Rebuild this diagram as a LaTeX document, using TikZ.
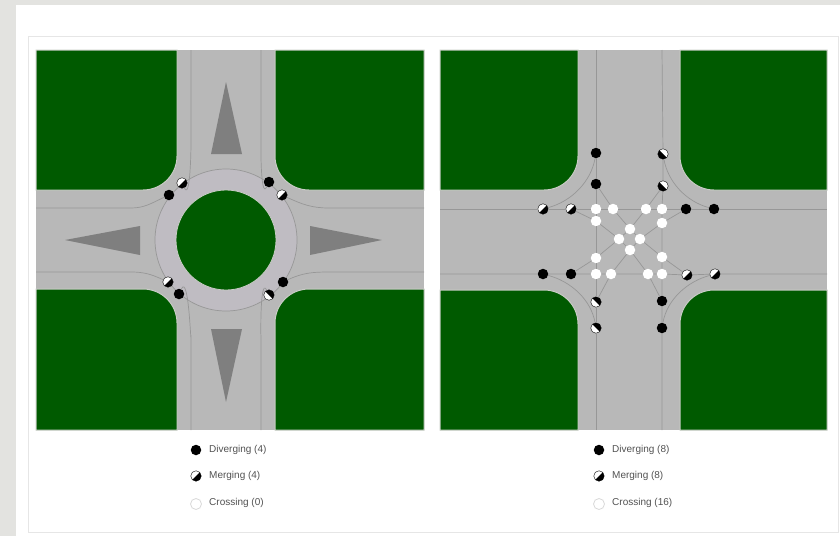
\documentclass[tikz,border=0pt]{standalone}
\usepackage{fontspec}
\setmainfont{Liberation Sans}
\definecolor{bgc}{HTML}{E3E3E0}
\definecolor{grassc}{HTML}{005A00}
\definecolor{roadc}{HTML}{B8B8B8}
\definecolor{edgec}{HTML}{C9CCC6}
\definecolor{ringc}{HTML}{BFBCC2}
\definecolor{linec}{HTML}{979797}
\definecolor{arrowc}{HTML}{7F7F7F}
\definecolor{framec}{HTML}{E6E6E6}
\tikzset{
 grass/.style={fill=grassc,draw=edgec,line width=1pt},
 road/.style={fill=roadc},
 lane/.style={draw=linec,line width=.7pt},
 island/.style={fill=arrowc},
 divdot/.style={circle,fill=black,minimum size=10.5pt,inner sep=0pt},
 crossdot/.style={circle,fill=white,minimum size=10.5pt,inner sep=0pt},
 mergebase/.style={circle,fill=white,draw=black,line width=.4pt,minimum size=10.5pt,inner sep=0pt},
 mergese/.style={mergebase,path picture={\fill[black] (path picture bounding box.south west)--(path picture bounding box.north east)--(path picture bounding box.south east)--cycle;}},
 mergesw/.style={mergebase,path picture={\fill[black] (path picture bounding box.north west)--(path picture bounding box.south east)--(path picture bounding box.south west)--cycle;}},
 mergene/.style={mergebase,path picture={\fill[black] (path picture bounding box.north west)--(path picture bounding box.south east)--(path picture bounding box.north east)--cycle;}},
 legdot/.style={circle,draw=black!15,line width=.8pt,fill=white,minimum size=11pt,inner sep=0pt},
 legtext/.style={anchor=west,inner sep=0pt,text=black!68,font=\fontsize{10}{12}\selectfont},
}
\newcommand{\grasspanel}[8]{%
 % x0 x1 xa xb y0 ya yb y1
 \fill[grass] (#1,#5) -- (#3,#5) -- (#3,#6-34) arc[start angle=0,end angle=90,radius=34] -- (#1,#6) -- cycle;
 \fill[grass] (#2,#5) -- (#4,#5) -- (#4,#6-34) arc[start angle=180,end angle=90,radius=34] -- (#2,#6) -- cycle;
 \fill[grass] (#1,#8) -- (#3,#8) -- (#3,#7+34) arc[start angle=0,end angle=-90,radius=34] -- (#1,#7) -- cycle;
 \fill[grass] (#2,#8) -- (#4,#8) -- (#4,#7+34) arc[start angle=180,end angle=270,radius=34] -- (#2,#7) -- cycle;
}
\begin{document}
\begin{tikzpicture}[x=1pt,y=-1pt]
\useasboundingbox (0,0) rectangle (840,536);
\fill[bgc] (0,0) rectangle (840,536);
\fill[white] (16,5) rectangle (840,536);
\draw[framec,line width=1pt] (28,36) rectangle (838,532);
% ---- left panel
\fill[road] (36,50) rectangle (424,430);
\grasspanel{36}{424}{177}{275}{50}{190}{289}{430}
\fill[ringc] (226,240) circle[radius=71];
\draw[lane] (226,240) circle[radius=71];
\fill[grassc,draw=edgec,line width=.8pt] (226,240) circle[radius=50];
\fill[island] (226,82) -- (242,154) -- (211,154) -- cycle;
\fill[island] (226,402) -- (242,329) -- (211,329) -- cycle;
\fill[island] (65,240) -- (140,226) -- (140,255) -- cycle;
\fill[island] (382,240) -- (310,226) -- (310,255) -- cycle;
\node[divdot] (la) at (169,195) {};
\node[mergese] (lb) at (182,183) {};
\node[divdot] (lc) at (269,182) {};
\node[mergese] (ld) at (282,195) {};
\node[mergese] (le) at (168,282) {};
\node[divdot] (lf) at (179,294) {};
\node[divdot] (lg) at (283,282) {};
\node[mergene] (lh) at (269,295) {};
\coordinate (ln1) at (191,50); \coordinate (ln2) at (261,50);
\coordinate (ls1) at (191,430); \coordinate (ls2) at (261,430);
\coordinate (lw1) at (36,208); \coordinate (lw2) at (36,272);
\coordinate (le1) at (424,208); \coordinate (le2) at (424,272);
\draw[lane] (ln1) -- ++(0,95) to[out=90,in=-65] (lb);
\draw[lane] (ln2) -- ++(0,95) to[out=90,in=-115] (lc);
\draw[lane] (ls1) -- ++(0,-95) to[out=-90,in=65] (lf);
\draw[lane] (ls2) -- ++(0,-95) to[out=-90,in=115] (lh);
\draw[lane] (lw1) -- ++(95,0) to[out=0,in=205] (la);
\draw[lane] (lw2) -- ++(95,0) to[out=0,in=155] (le);
\draw[lane] (le1) -- ++(-95,0) to[out=180,in=-25] (ld);
\draw[lane] (le2) -- ++(-95,0) to[out=180,in=25] (lg);
% ---- right panel
\fill[road] (440,50) rectangle (827,430);
\grasspanel{440}{827}{578}{680}{50}{190}{290}{430}
\node[divdot] (a1) at (596,153) {};
\node[divdot] (a2) at (596,184) {};
\node[mergesw] (b1) at (663,154) {};
\node[mergesw] (b2) at (663,186) {};
\node[mergese] (c1) at (543,209) {};
\node[mergese] (c2) at (571,209) {};
\node[divdot] (d2) at (686,209) {};
\node[divdot] (d1) at (714,209) {};
\node[divdot] (e1) at (543,274) {};
\node[divdot] (e2) at (571,274) {};
\node[mergese] (f2) at (687,275) {};
\node[mergese] (f1) at (715,274) {};
\node[mergene] (g2) at (596,302) {};
\node[mergene] (g1) at (596,328) {};
\node[divdot] (h2) at (662,301) {};
\node[divdot] (h1) at (662,328) {};
\node[crossdot] (w1) at (596,209) {};
\node[crossdot] (w2) at (613,209) {};
\node[crossdot] (w3) at (646,209) {};
\node[crossdot] (w4) at (662,209) {};
\node[crossdot] (w5) at (596,221) {};
\node[crossdot] (w6) at (662,223) {};
\node[crossdot] (w7) at (630,229) {};
\node[crossdot] (w8) at (619,239) {};
\node[crossdot] (w9) at (640,239) {};
\node[crossdot] (w10) at (630,250) {};
\node[crossdot] (w11) at (596,258) {};
\node[crossdot] (w12) at (662,257) {};
\node[crossdot] (w13) at (596,274) {};
\node[crossdot] (w14) at (611,274) {};
\node[crossdot] (w15) at (648,274) {};
\node[crossdot] (w16) at (662,274) {};
\coordinate (rn1) at (596,50); \coordinate (rn2) at (662,50);
\coordinate (rs1) at (596,430); \coordinate (rs2) at (662,430);
\coordinate (rw1) at (440,209); \coordinate (rw2) at (440,274);
\coordinate (re1) at (827,209); \coordinate (re2) at (827,274);
\draw[lane] (rn1) -- (a1) -- (a2) -- (w1) -- (w5) -- (w11) -- (w13) -- (g2) -- (g1) -- (rs1);
\draw[lane] (rn2) -- (b1) -- (b2) -- (w4) -- (w6) -- (w12) -- (w16) -- (h2) -- (h1) -- (rs2);
\draw[lane] (rw1) -- (c1) -- (c2) -- (w1) -- (w2) -- (w3) -- (w4) -- (d2) -- (d1) -- (re1);
\draw[lane] (rw2) -- (e1) -- (e2) -- (w13) -- (w14) -- (w15) -- (w16) -- (f2) -- (f1) -- (re2);
\draw[lane] (a1) to[out=-100,in=15,looseness=.9] (c1);
\draw[lane] (b1) to[out=-80,in=165,looseness=.9] (d1);
\draw[lane] (e1) to[out=-15,in=100,looseness=.9] (g1);
\draw[lane] (f1) to[out=195,in=80,looseness=.9] (h1);
\draw[lane] (a2) -- (w2) -- (w7) -- (w9) -- (w12) -- (f2);
\draw[lane] (c2) -- (w5) -- (w8) -- (w10) -- (w15) -- (h2);
\draw[lane] (b2) -- (w3) -- (w7) -- (w8) -- (w11) -- (e2);
\draw[lane] (d2) -- (w6) -- (w9) -- (w10) -- (w14) -- (g2);
% ---- legends
\node[divdot] (k1) at (196,450) {};
\node[legtext] (t1) at (209,450) {Diverging (4)};
\node[mergese] (k2) at (196,476) {};
\node[legtext] (t2) at (209,476) {Merging (4)};
\node[legdot] (k3) at (196,504) {};
\node[legtext] (t3) at (209,503) {Crossing (0)};
\node[divdot] (k4) at (599,450) {};
\node[legtext] (t4) at (612,450) {Diverging (8)};
\node[mergese] (k5) at (599,476) {};
\node[legtext] (t5) at (612,476) {Merging (8)};
\node[legdot] (k6) at (599,504) {};
\node[legtext] (t6) at (612,503) {Crossing (16)};
\end{tikzpicture}
\end{document}
